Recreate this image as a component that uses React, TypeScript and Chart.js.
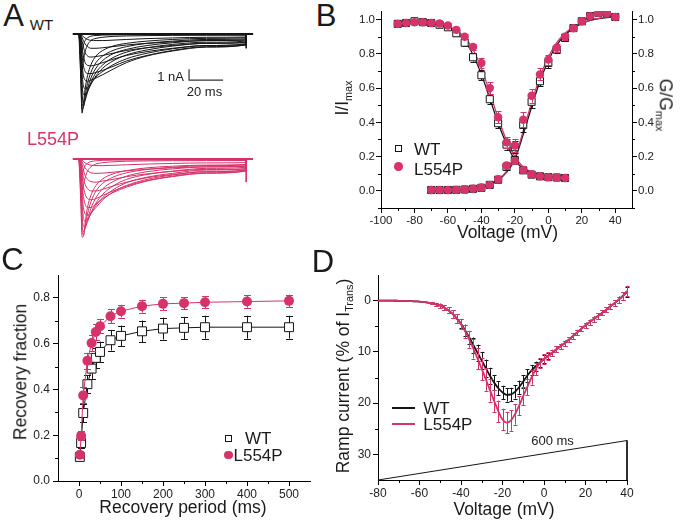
import React, { useEffect, useRef } from 'react';
import { Chart, registerables } from 'chart.js';
Chart.register(...registerables);

const FONT = "'Liberation Sans', Arial, Helvetica, sans-serif";
const INK = '#151515';
const PINK = '#d6336a';
Chart.defaults.font.family = FONT;
Chart.defaults.color = '#222';

// ---------------- Panel A : current traces ----------------
const A_T = [0, 0.6, 1.2, 1.8, 2.6, 3.6, 5, 7, 10, 14, 20, 28, 40, 55, 75, 98];
const A_END_T = 98.3;
const A_BASE_T = [-3.7, 102.4];
const A_BASE_I = [0, 0];
const A_TAIL_T = [98.3, 98.3];
const A_WT_TAIL = [0, -1.3];
const A_L_TAIL = [0, -2.1];
const A_BAR_T = [64.7, 64.7, 84.7];
const A_BAR_I = [-3.2, -4.2, -4.2];
const WT_TRACES = [
  [0, -1.5, -5.0, -7.2, -6.3, -5.0, -3.8, -2.8, -2.0, -1.5, -1.1, -0.85, -0.65, -0.5, -0.4, -0.35],
  [0, -1.2, -4.4, -6.9, -6.6, -5.6, -4.5, -3.5, -2.6, -2.0, -1.5, -1.15, -0.85, -0.65, -0.5, -0.45],
  [0, -0.9, -3.7, -6.2, -6.6, -6.0, -5.0, -4.0, -3.1, -2.4, -1.8, -1.4, -1.05, -0.8, -0.6, -0.55],
  [0, -0.6, -3.0, -5.4, -6.2, -6.0, -5.3, -4.4, -3.5, -2.8, -2.15, -1.65, -1.25, -0.95, -0.75, -0.65],
  [0, -0.4, -2.3, -4.5, -5.5, -5.6, -5.2, -4.6, -3.8, -3.1, -2.45, -1.9, -1.45, -1.1, -0.85, -0.75],
  [0, -0.25, -1.7, -3.6, -4.7, -5.0, -4.9, -4.5, -3.9, -3.4, -2.8, -2.25, -1.75, -1.35, -1.05, -0.9],
  [0, -0.15, -1.1, -2.7, -3.8, -4.2, -4.3, -4.2, -4.0, -3.7, -3.2, -2.6, -2.0, -1.55, -1.2, -1.0],
  [0, -0.1, -0.7, -1.9, -2.9, -3.4, -3.6, -3.6, -3.5, -3.3, -2.95, -2.45, -1.95, -1.5, -1.15, -1.0],
  [0, -0.05, -0.4, -1.2, -2.0, -2.6, -2.85, -2.9, -2.8, -2.6, -2.3, -1.95, -1.6, -1.3, -1.05, -0.95],
  [0, -0.03, -0.2, -0.65, -1.2, -1.7, -2.0, -2.1, -2.05, -1.95, -1.75, -1.5, -1.25, -1.05, -0.85, -0.8],
  [0, -0.02, -0.1, -0.3, -0.6, -0.9, -1.15, -1.3, -1.3, -1.25, -1.15, -1.0, -0.85, -0.72, -0.6, -0.55],
  [0, 0, -0.04, -0.12, -0.25, -0.38, -0.5, -0.58, -0.6, -0.6, -0.56, -0.5, -0.42, -0.36, -0.3, -0.28],
  [0, -2.5, -4.0, -3.4, -2.4, -1.6, -1.0, -0.6, -0.4, -0.3, -0.22, -0.18, -0.15, -0.13, -0.12, -0.12],
  [0, -1.6, -2.1, -1.6, -1.0, -0.6, -0.35, -0.2, -0.14, -0.1, -0.08, -0.07, -0.06, -0.05, -0.05, -0.05],
];
const L554P_TRACES = [
  [0, -1.2, -4.5, -7.1, -7.0, -5.8, -4.4, -3.3, -2.4, -1.8, -1.35, -1.05, -0.8, -0.65, -0.55, -0.5],
  [0, -0.9, -3.9, -6.6, -6.9, -6.1, -5.0, -3.9, -2.9, -2.2, -1.65, -1.25, -0.95, -0.75, -0.6, -0.55],
  [0, -0.7, -3.2, -5.9, -6.6, -6.3, -5.5, -4.5, -3.5, -2.7, -2.05, -1.55, -1.15, -0.9, -0.72, -0.65],
  [0, -0.5, -2.5, -5.0, -6.1, -6.2, -5.7, -4.9, -4.0, -3.2, -2.45, -1.85, -1.4, -1.1, -0.85, -0.75],
  [0, -0.3, -1.8, -4.0, -5.3, -5.7, -5.5, -5.0, -4.2, -3.5, -2.8, -2.15, -1.65, -1.3, -1.0, -0.9],
  [0, -0.2, -1.3, -3.1, -4.4, -5.0, -5.1, -4.9, -4.4, -3.7, -3.0, -2.4, -1.85, -1.45, -1.15, -1.0],
  [0, -0.12, -0.8, -2.2, -3.4, -4.1, -4.4, -4.4, -4.1, -3.6, -3.05, -2.55, -2.0, -1.6, -1.3, -1.1],
  [0, -0.08, -0.5, -1.5, -2.5, -3.2, -3.6, -3.7, -3.6, -3.3, -2.9, -2.45, -1.95, -1.55, -1.25, -1.08],
  [0, -0.05, -0.3, -0.9, -1.7, -2.3, -2.7, -2.9, -2.9, -2.75, -2.45, -2.1, -1.7, -1.4, -1.15, -1.0],
  [0, -0.03, -0.15, -0.5, -1.0, -1.5, -1.85, -2.05, -2.1, -2.0, -1.85, -1.6, -1.35, -1.12, -0.95, -0.88],
  [0, -0.02, -0.08, -0.25, -0.5, -0.8, -1.05, -1.25, -1.3, -1.28, -1.2, -1.07, -0.92, -0.8, -0.7, -0.65],
  [0, 0, -0.03, -0.1, -0.22, -0.35, -0.47, -0.56, -0.6, -0.6, -0.57, -0.52, -0.46, -0.4, -0.35, -0.33],
  [0, -2.3, -3.8, -3.3, -2.4, -1.7, -1.1, -0.7, -0.45, -0.33, -0.25, -0.2, -0.17, -0.15, -0.14, -0.14],
  [0, -1.5, -2.0, -1.5, -1.0, -0.62, -0.38, -0.23, -0.16, -0.12, -0.1, -0.09, -0.08, -0.07, -0.07, -0.07],
];

// ---------------- Panel B : inactivation / activation ----------------
const B_INACT_V = [-90, -85, -80, -75, -70, -65, -60, -55, -50, -45, -40, -35, -30, -25, -20, -15, -10, -5, 0, 5, 10];
const WT_INACT = [0.975, 0.98, 0.99, 0.985, 0.98, 0.97, 0.955, 0.92, 0.865, 0.78, 0.675, 0.535, 0.395, 0.27, 0.18, 0.12, 0.095, 0.085, 0.08, 0.078, 0.075];
const WT_INACT_ERR = [0.01, 0.01, 0.01, 0.01, 0.01, 0.01, 0.012, 0.015, 0.02, 0.025, 0.03, 0.03, 0.03, 0.03, 0.02, 0.01, 0.01, 0.01, 0.01, 0.01, 0.01];
const L_INACT = [0.975, 0.98, 0.984, 0.984, 0.98, 0.977, 0.965, 0.94, 0.9, 0.84, 0.747, 0.6, 0.43, 0.283, 0.175, 0.122, 0.097, 0.085, 0.08, 0.078, 0.075];
const L_INACT_ERR = [0.01, 0.01, 0.01, 0.01, 0.01, 0.01, 0.01, 0.012, 0.015, 0.02, 0.03, 0.035, 0.035, 0.03, 0.02, 0.01, 0.01, 0.01, 0.01, 0.01, 0.01];
const WT_INACT_FIT = [0.99, 0.988, 0.985, 0.982, 0.977, 0.968, 0.952, 0.924, 0.875, 0.795, 0.68, 0.54, 0.395, 0.275, 0.18, 0.13, 0.103, 0.09, 0.083, 0.08, 0.078];
const L_INACT_FIT = [0.99, 0.988, 0.986, 0.984, 0.98, 0.973, 0.96, 0.937, 0.895, 0.825, 0.715, 0.575, 0.425, 0.295, 0.2, 0.14, 0.108, 0.092, 0.084, 0.08, 0.078];
const B_ACT_V = [-70, -65, -60, -55, -50, -45, -40, -35, -30, -25, -20, -15, -10, -5, 0, 5, 10, 15, 20, 25, 30, 35, 40];
const WT_ACT = [0.005, 0.005, 0.005, 0.006, 0.008, 0.012, 0.018, 0.035, 0.065, 0.14, 0.255, 0.385, 0.52, 0.64, 0.747, 0.825, 0.893, 0.95, 0.99, 1.02, 1.04, 1.037, 1.015];
const WT_ACT_ERR = [0.005, 0.005, 0.005, 0.005, 0.005, 0.006, 0.008, 0.01, 0.015, 0.02, 0.035, 0.04, 0.035, 0.03, 0.03, 0.02, 0.02, 0.015, 0.012, 0.01, 0.01, 0.01, 0.01];
const L_ACT = [0.005, 0.005, 0.005, 0.006, 0.008, 0.012, 0.02, 0.035, 0.068, 0.148, 0.265, 0.415, 0.555, 0.68, 0.766, 0.835, 0.9, 0.95, 0.99, 1.02, 1.04, 1.037, 1.015];
const L_ACT_ERR = [0.005, 0.005, 0.005, 0.005, 0.005, 0.006, 0.008, 0.01, 0.015, 0.022, 0.038, 0.045, 0.04, 0.035, 0.03, 0.022, 0.02, 0.015, 0.012, 0.01, 0.01, 0.01, 0.01];
const WT_ACT_FIT = [0.001, 0.002, 0.003, 0.005, 0.008, 0.013, 0.022, 0.037, 0.063, 0.108, 0.185, 0.33, 0.49, 0.64, 0.76, 0.85, 0.91, 0.95, 0.977, 0.995, 1.005, 1.012, 1.016];
const L_ACT_FIT = [0.001, 0.002, 0.003, 0.005, 0.008, 0.013, 0.022, 0.038, 0.066, 0.113, 0.195, 0.35, 0.515, 0.665, 0.78, 0.865, 0.92, 0.956, 0.98, 0.997, 1.007, 1.014, 1.018];
const B_X_TICKS = [-100, -80, -60, -40, -20, 0, 20, 40];
const B_X_MINOR = [-90, -70, -50, -30, -10, 10, 30];
const B_Y_TICKS = [0, 0.2, 0.4, 0.6, 0.8, 1.0];
const B_Y_MINOR = [-0.1, 0.1, 0.3, 0.5, 0.7, 0.9];

// ---------------- Panel C : recovery ----------------
const C_T = [2, 5, 10, 20, 30, 40, 50, 75, 100, 150, 200, 250, 300, 400, 500];
const WT_REC = [0.105, 0.166, 0.297, 0.423, 0.491, 0.538, 0.564, 0.615, 0.634, 0.654, 0.666, 0.669, 0.672, 0.672, 0.672];
const WT_REC_ERR = [0.012, 0.022, 0.04, 0.04, 0.045, 0.045, 0.045, 0.045, 0.045, 0.047, 0.048, 0.048, 0.05, 0.05, 0.05];
const L_REC = [0.115, 0.197, 0.374, 0.525, 0.603, 0.651, 0.676, 0.72, 0.742, 0.764, 0.774, 0.777, 0.781, 0.784, 0.787];
const L_REC_ERR = [0.015, 0.02, 0.035, 0.035, 0.035, 0.035, 0.03, 0.03, 0.028, 0.028, 0.028, 0.027, 0.027, 0.027, 0.027];
const C_X_TICKS = [0, 100, 200, 300, 400, 500];
const C_X_MINOR = [50, 150, 250, 350, 450];
const C_Y_TICKS = [0, 0.2, 0.4, 0.6, 0.8];
const C_Y_MINOR = [0.1, 0.3, 0.5, 0.7];

// ---------------- Panel D : ramp current ----------------
const D_V = [-80, -78, -76, -74, -72, -70, -68, -66, -64, -62, -60, -58, -56, -54, -52, -50, -48, -46, -44, -42, -40, -38, -36, -34, -32, -30, -28, -26, -24, -22, -20, -18, -16, -14, -12, -10, -8, -6, -4, -2, 0, 2, 4, 6, 8, 10, 12, 14, 16, 18, 20, 22, 24, 26, 28, 30, 32, 34, 36, 38, 40];
const WT_RAMP = [0, 0, 0, 0, 0.02, 0.03, 0.05, 0.07, 0.1, 0.15, 0.2, 0.28, 0.38, 0.55, 0.75, 1.0, 1.4, 1.9, 2.6, 3.5, 4.5, 5.8, 7.2, 8.7, 10.2, 11.7, 13.2, 14.7, 16.0, 17.1, 17.9, 18.4, 18.3, 17.8, 16.9, 15.8, 14.6, 13.6, 12.8, 12.1, 11.4, 10.8, 10.2, 9.5, 8.9, 8.3, 7.6, 6.9, 6.2, 5.5, 4.8, 4.2, 3.6, 3.0, 2.4, 1.8, 1.1, 0.5, -0.2, -0.9, -1.7];
const WT_RAMP_ERR = [0, 0, 0, 0, 0, 0, 0, 0, 0, 0, 0, 0, 0, 0.2, 0.3, 0.4, 0.5, 0.6, 0.7, 0.8, 0.9, 1.1, 1.3, 1.5, 1.6, 1.7, 1.7, 1.6, 1.5, 1.4, 1.3, 1.3, 1.3, 1.3, 1.3, 1.3, 1.2, 1.0, 0.9, 0.8, 0.7, 0.6, 0.6, 0.6, 0.5, 0.5, 0.5, 0.5, 0.5, 0.5, 0.5, 0.5, 0.5, 0.5, 0.5, 0.5, 0.5, 0.6, 0.6, 0.7, 0.9];
const L_RAMP = [0, 0, 0, 0, 0.02, 0.03, 0.05, 0.07, 0.1, 0.15, 0.2, 0.28, 0.38, 0.55, 0.75, 1.0, 1.4, 1.9, 2.6, 3.5, 4.6, 6.0, 7.6, 9.4, 11.3, 13.3, 15.4, 17.5, 19.6, 21.6, 23.2, 23.8, 23.4, 22.2, 20.5, 18.6, 16.8, 15.0, 13.4, 12.2, 11.4, 10.8, 10.2, 9.5, 8.9, 8.3, 7.6, 6.9, 6.2, 5.5, 4.8, 4.2, 3.6, 3.0, 2.4, 1.8, 1.1, 0.5, -0.2, -0.9, -1.9];
const L_RAMP_ERR = [0, 0, 0, 0, 0, 0, 0, 0, 0, 0, 0, 0, 0, 0.2, 0.3, 0.4, 0.5, 0.6, 0.7, 0.8, 1.0, 1.3, 1.6, 1.9, 2.1, 2.2, 2.2, 2.2, 2.1, 2.1, 2.1, 2.1, 2.0, 2.0, 1.9, 1.8, 1.6, 1.4, 1.2, 1.0, 0.9, 0.7, 0.6, 0.6, 0.5, 0.5, 0.5, 0.5, 0.5, 0.5, 0.5, 0.5, 0.5, 0.5, 0.5, 0.5, 0.5, 0.6, 0.6, 0.7, 1.0];
const RAMP_V = [-80, 40, 40];
const RAMP_Y = [35, 27.3, 35];
const D_X_TICKS = [-80, -60, -40, -20, 0, 20, 40];
const D_X_MINOR = [-70, -50, -30, -10, 10, 30];
const D_Y_TICKS = [0, 10, 20, 30];
const D_Y_MINOR = [5, 15, 25];

// ---------------- helpers ----------------
const pts = (xs: number[], ys: number[]) => xs.map((x, i) => ({ x, y: ys[i] }));

const errorBars = {
  id: 'errorBars',
  beforeDatasetDraw(chart: any, args: any) {
    const ds = chart.data.datasets[args.index];
    if (!ds.errors) return;
    const meta = args.meta;
    const xs = meta.xScale, ys = meta.yScale;
    const ctx = chart.ctx;
    const cap = ds.capHalf ?? 3;
    ctx.save();
    ctx.strokeStyle = ds.errorColor || ds.borderColor;
    ctx.lineWidth = 1;
    ds.data.forEach((p: any, j: number) => {
      const e = ds.errors[j];
      if (!e) return;
      const px = Math.round(xs.getPixelForValue(p.x)) + 0.5;
      const y1 = ys.getPixelForValue(p.y - e);
      const y2 = ys.getPixelForValue(p.y + e);
      ctx.beginPath();
      ctx.moveTo(px, y1); ctx.lineTo(px, y2);
      ctx.moveTo(px - cap, Math.round(y1) + 0.5); ctx.lineTo(px + cap, Math.round(y1) + 0.5);
      ctx.moveTo(px - cap, Math.round(y2) + 0.5); ctx.lineTo(px + cap, Math.round(y2) + 0.5);
      ctx.stroke();
    });
    ctx.restore();
  },
};

const minorTicks = {
  id: 'minorTicks',
  afterDraw(chart: any, _a: any, opts: any) {
    const list = (opts && opts.list) || [];
    const ctx = chart.ctx;
    const ca = chart.chartArea;
    ctx.save();
    ctx.strokeStyle = '#000';
    ctx.lineWidth = 1;
    for (const m of list) {
      const s = chart.scales[m.id];
      for (const v of m.values) {
        const p = Math.round(s.getPixelForValue(v)) + 0.5;
        ctx.beginPath();
        if (s.isHorizontal()) {
          const y = Math.round(ca.bottom);
          ctx.moveTo(p, y); ctx.lineTo(p, y + m.len);
        } else if (s.position === 'left') {
          const x = Math.round(ca.left);
          ctx.moveTo(x, p); ctx.lineTo(x - m.len, p);
        } else {
          const x = Math.round(ca.right);
          ctx.moveTo(x, p); ctx.lineTo(x + m.len, p);
        }
        ctx.stroke();
      }
    }
    ctx.restore();
  },
};

function linAxis(o: any) {
  const horizontal = o.pos === 'bottom';
  return {
    type: 'linear',
    position: o.pos,
    min: o.min,
    max: o.max,
    reverse: !!o.reverse,
    afterBuildTicks: (s: any) => { s.ticks = o.ticks.map((v: number) => ({ value: v })); },
    afterFit: (s: any) => { if (horizontal) s.height = o.size; else s.width = o.size; },
    ticks: {
      autoSkip: false, maxRotation: 0, minRotation: 0, padding: o.pad ?? 2, color: '#222',
      font: { family: FONT, size: o.fontSize ?? 12 },
      callback: o.fmt,
    },
    grid: { drawOnChartArea: false, drawTicks: true, tickLength: 5, color: '#000', tickColor: '#000', lineWidth: 1 },
    border: { display: true, color: '#000', width: 1 },
  };
}

const baseOptions = (extra: any) => ({
  responsive: false,
  maintainAspectRatio: false,
  animation: false,
  events: [],
  ...extra,
});

function ChartCanvas({ left, top, width, height, make }: any) {
  const ref = useRef<HTMLCanvasElement | null>(null);
  useEffect(() => {
    const chart = new Chart(ref.current as HTMLCanvasElement, make());
    return () => chart.destroy();
  }, []);
  return (
    <canvas ref={ref} width={width} height={height}
      style={{ position: 'absolute', left, top, width, height }} />
  );
}

function Txt({ x, y, size, rot = 0, color = '#1a1a1a', align = 'center', children }: any) {
  const tx = align === 'center' ? '-50%' : align === 'left' ? '0%' : '-100%';
  return (
    <div style={{
      position: 'absolute', left: x, top: y, fontFamily: FONT, fontSize: size, lineHeight: 1,
      color, whiteSpace: 'nowrap', transform: `translate(${tx}, -50%) rotate(${rot}deg)`,
    }}>{children}</div>
  );
}

const Sub = ({ children }: any) => (
  <span style={{ fontSize: '0.62em', position: 'relative', top: '0.38em' }}>{children}</span>
);

// ---------------- chart configs ----------------
function makeA() {
  const traceDs = (tr: number[], color: string, axis: string) => ({
    data: pts(A_T, tr).concat([{ x: A_END_T, y: 0 }]),
    yAxisID: axis, showLine: true, pointRadius: 0, borderColor: color, borderWidth: 1,
    cubicInterpolationMode: 'monotone',
  });
  const lineDs = (xs: number[], ys: number[], color: string, axis: string, w: number) => ({
    data: pts(xs, ys), yAxisID: axis, showLine: true, pointRadius: 0, borderColor: color, borderWidth: w, tension: 0,
  });
  const datasets: any[] = [
    lineDs(A_BAR_T, A_BAR_I, '#333', 'y', 1.2),
    lineDs(A_BASE_T, A_BASE_I, INK, 'y', 2),
    lineDs(A_TAIL_T, A_WT_TAIL, INK, 'y', 1),
    ...WT_TRACES.map((t) => traceDs(t, INK, 'y')),
    lineDs(A_BASE_T, A_BASE_I, PINK, 'y2', 2),
    lineDs(A_TAIL_T, A_L_TAIL, PINK, 'y2', 1),
    ...L554P_TRACES.map((t) => traceDs(t, PINK, 'y2')),
  ];
  return {
    type: 'scatter',
    data: { datasets },
    options: baseOptions({
      layout: { padding: 0 },
      plugins: { legend: { display: false }, tooltip: { enabled: false } },
      scales: {
        x: { type: 'linear', display: false, min: -11.18, max: 107.6 },
        y: { type: 'linear', display: false, min: -19.64, max: 1.27 },
        y2: { type: 'linear', display: false, min: -8.27, max: 12.64 },
      },
    }),
  };
}

function makeB() {
  const mk = (xs: number[], ys: number[], errs: number[], pink: boolean) => ({
    data: pts(xs, ys), errors: errs, capHalf: 3,
    showLine: false,
    pointStyle: pink ? 'circle' : 'rect',
    pointRadius: pink ? 4.2 : 5,
    backgroundColor: pink ? PINK : '#fff',
    borderColor: pink ? PINK : INK,
    borderWidth: pink ? 0 : 1,
    errorColor: pink ? PINK : INK,
  });
  const fit = (xs: number[], ys: number[], color: string) => ({
    data: pts(xs, ys), showLine: true, pointRadius: 0, borderColor: color, borderWidth: 1.3,
    cubicInterpolationMode: 'monotone',
  });
  return {
    type: 'scatter',
    data: {
      datasets: [
        mk(B_ACT_V, L_ACT, L_ACT_ERR, true),
        mk(B_INACT_V, L_INACT, L_INACT_ERR, true),
        mk(B_ACT_V, WT_ACT, WT_ACT_ERR, false),
        mk(B_INACT_V, WT_INACT, WT_INACT_ERR, false),
        fit(B_ACT_V, L_ACT_FIT, PINK),
        fit(B_INACT_V, L_INACT_FIT, PINK),
        fit(B_ACT_V, WT_ACT_FIT, INK),
        fit(B_INACT_V, WT_INACT_FIT, INK),
      ],
    },
    plugins: [errorBars, minorTicks],
    options: baseOptions({
      layout: { padding: { top: 11, left: 0, right: 0, bottom: 0 } },
      plugins: {
        legend: { display: false }, tooltip: { enabled: false },
        minorTicks: { list: [
          { id: 'x', values: B_X_MINOR, len: 3 },
          { id: 'y', values: B_Y_MINOR, len: 3 },
          { id: 'y2', values: B_Y_MINOR, len: 3 },
        ] },
      },
      scales: {
        x: linAxis({ pos: 'bottom', min: -100, max: 50, ticks: B_X_TICKS, size: 52, fontSize: 11.5, pad: 1, fmt: (v: any) => String(v) }),
        y: linAxis({ pos: 'left', min: -0.1, max: 1.05, ticks: B_Y_TICKS, size: 41, fontSize: 11.5, pad: 1, fmt: (v: any) => Number(v).toFixed(1) }),
        y2: linAxis({ pos: 'right', min: -0.1, max: 1.05, ticks: B_Y_TICKS, size: 48, fontSize: 11.5, pad: 1, fmt: (v: any) => Number(v).toFixed(1) }),
      },
    }),
  };
}

function makeC() {
  const mk = (ys: number[], errs: number[], pink: boolean) => ({
    data: pts(C_T, ys), errors: errs, capHalf: 3.5,
    showLine: true, tension: 0, borderWidth: 1,
    pointStyle: pink ? 'circle' : 'rect',
    pointRadius: pink ? 5 : 6.3,
    pointBackgroundColor: pink ? PINK : '#fff',
    pointBorderColor: pink ? PINK : INK,
    pointBorderWidth: pink ? 0 : 1,
    borderColor: pink ? PINK : INK,
    errorColor: pink ? PINK : INK,
  });
  return {
    type: 'scatter',
    data: { datasets: [mk(L_REC, L_REC_ERR, true), mk(WT_REC, WT_REC_ERR, false)] },
    plugins: [errorBars, minorTicks],
    options: baseOptions({
      layout: { padding: { top: 15, left: 0, right: 30, bottom: 0 } },
      plugins: {
        legend: { display: false }, tooltip: { enabled: false },
        minorTicks: { list: [
          { id: 'x', values: C_X_MINOR, len: 3 },
          { id: 'y', values: C_Y_MINOR, len: 3 },
        ] },
      },
      scales: {
        x: linAxis({ pos: 'bottom', min: -50, max: 550, ticks: C_X_TICKS, size: 42, fontSize: 12, pad: 1, fmt: (v: any) => String(v) }),
        y: linAxis({ pos: 'left', min: 0, max: 0.9, ticks: C_Y_TICKS, size: 58, fontSize: 12, pad: 3, fmt: (v: any) => Number(v).toFixed(1) }),
      },
    }),
  };
}

function makeD() {
  const curve = (ys: number[], errs: number[], color: string) => ({
    data: pts(D_V, ys), errors: errs, capHalf: 2, errorColor: color,
    showLine: true, pointRadius: 0, borderColor: color, borderWidth: 1.8,
    cubicInterpolationMode: 'monotone',
  });
  return {
    type: 'scatter',
    data: {
      datasets: [
        curve(L_RAMP, L_RAMP_ERR, PINK),
        curve(WT_RAMP, WT_RAMP_ERR, INK),
        { data: pts(RAMP_V, RAMP_Y), showLine: true, pointRadius: 0, borderColor: INK, borderWidth: 1, tension: 0, clip: false },
      ],
    },
    plugins: [errorBars, minorTicks],
    options: baseOptions({
      layout: { padding: { top: 15, left: 0, right: 53, bottom: 0 } },
      plugins: {
        legend: { display: false }, tooltip: { enabled: false },
        minorTicks: { list: [
          { id: 'x', values: D_X_MINOR, len: 3 },
          { id: 'y', values: D_Y_MINOR, len: 3 },
        ] },
      },
      scales: {
        x: linAxis({ pos: 'bottom', min: -80, max: 40, ticks: D_X_TICKS, size: 43, fontSize: 12, pad: 1, fmt: (v: any) => String(v) }),
        y: linAxis({ pos: 'left', min: -5, max: 35, reverse: true, ticks: D_Y_TICKS, size: 38, fontSize: 12, pad: 2, fmt: (v: any) => String(v) }),
      },
    }),
  };
}

const Square = ({ cx, cy }: any) => (
  <div style={{ position: 'absolute', left: cx - 3.5, top: cy - 3.5, width: 5, height: 5, border: `1px solid ${INK}`, background: '#fff' }} />
);
const Dot = ({ cx, cy, d = 8.5 }: any) => (
  <div style={{ position: 'absolute', left: cx - d / 2, top: cy - d / 2, width: d, height: d, borderRadius: '50%', background: PINK }} />
);
const Seg = ({ x1, x2, y, color }: any) => (
  <div style={{ position: 'absolute', left: x1, top: y - 1, width: x2 - x1, height: 2, background: color }} />
);

export default function App() {
  return (
    <div style={{ position: 'absolute', left: 0, top: 0, width: 680, height: 523, background: '#fff', overflow: 'hidden' }}>
      <ChartCanvas left={60} top={20} width={202} height={230} make={makeA} />
      <ChartCanvas left={340} top={0} width={340} height={260} make={makeB} />
      <ChartCanvas left={0} top={260} width={340} height={263} make={makeC} />
      <ChartCanvas left={340} top={260} width={340} height={263} make={makeD} />

      {/* panel letters */}
      <Txt x={13.5} y={15} size={31}>A</Txt>
      <Txt x={326} y={14.5} size={31}>B</Txt>
      <Txt x={12.5} y={259} size={31}>C</Txt>
      <Txt x={323} y={260.5} size={31}>D</Txt>

      {/* panel A annotations */}
      <Txt x={41.5} y={24} size={15}>WT</Txt>
      <Txt x={27} y={139} size={18} align="left" color={PINK}>L554P</Txt>
      <Txt x={170.5} y={75.5} size={13}>1 nA</Txt>
      <Txt x={204.5} y={90.5} size={13}>20 ms</Txt>

      {/* panel B titles & legend */}
      <Txt x={507.5} y={232.5} size={17.5}>Voltage (mV)</Txt>
      <Txt x={343} y={98} size={17.5} rot={-90}>I/I<Sub>max</Sub></Txt>
      <Txt x={665} y={105} size={17.5} rot={90}>G/G<Sub>max</Sub></Txt>
      <Square cx={398.3} cy={148.3} />
      <Dot cx={398.3} cy={166.7} />
      <Txt x={414} y={149} size={17} align="left">WT</Txt>
      <Txt x={414} y={168.5} size={17} align="left">L554P</Txt>

      {/* panel C titles & legend */}
      <Txt x={20.5} y={372} size={17.5} rot={-90}>Recovery fraction</Txt>
      <Txt x={183} y={508} size={17.5}>Recovery period (ms)</Txt>
      <Square cx={228.3} cy={438} />
      <Dot cx={228.3} cy={455} />
      <Txt x={245} y={437.5} size={17} align="left">WT</Txt>
      <Txt x={233.5} y={455.3} size={17} align="left">L554P</Txt>

      {/* panel D titles & legend */}
      <Txt x={504} y={510} size={17.5}>Voltage (mV)</Txt>
      <Txt x={344} y={376} size={17.5} rot={-90}>Ramp current (% of I<Sub>Trans</Sub>)</Txt>
      <Seg x1={391.7} x2={415} y={407.7} color={INK} />
      <Seg x1={391.7} x2={415} y={424.3} color={PINK} />
      <Txt x={423.3} y={407.7} size={17} align="left">WT</Txt>
      <Txt x={423.3} y={424.3} size={17} align="left">L554P</Txt>
      <Txt x={552.5} y={440} size={13}>600 ms</Txt>
    </div>
  );
}
